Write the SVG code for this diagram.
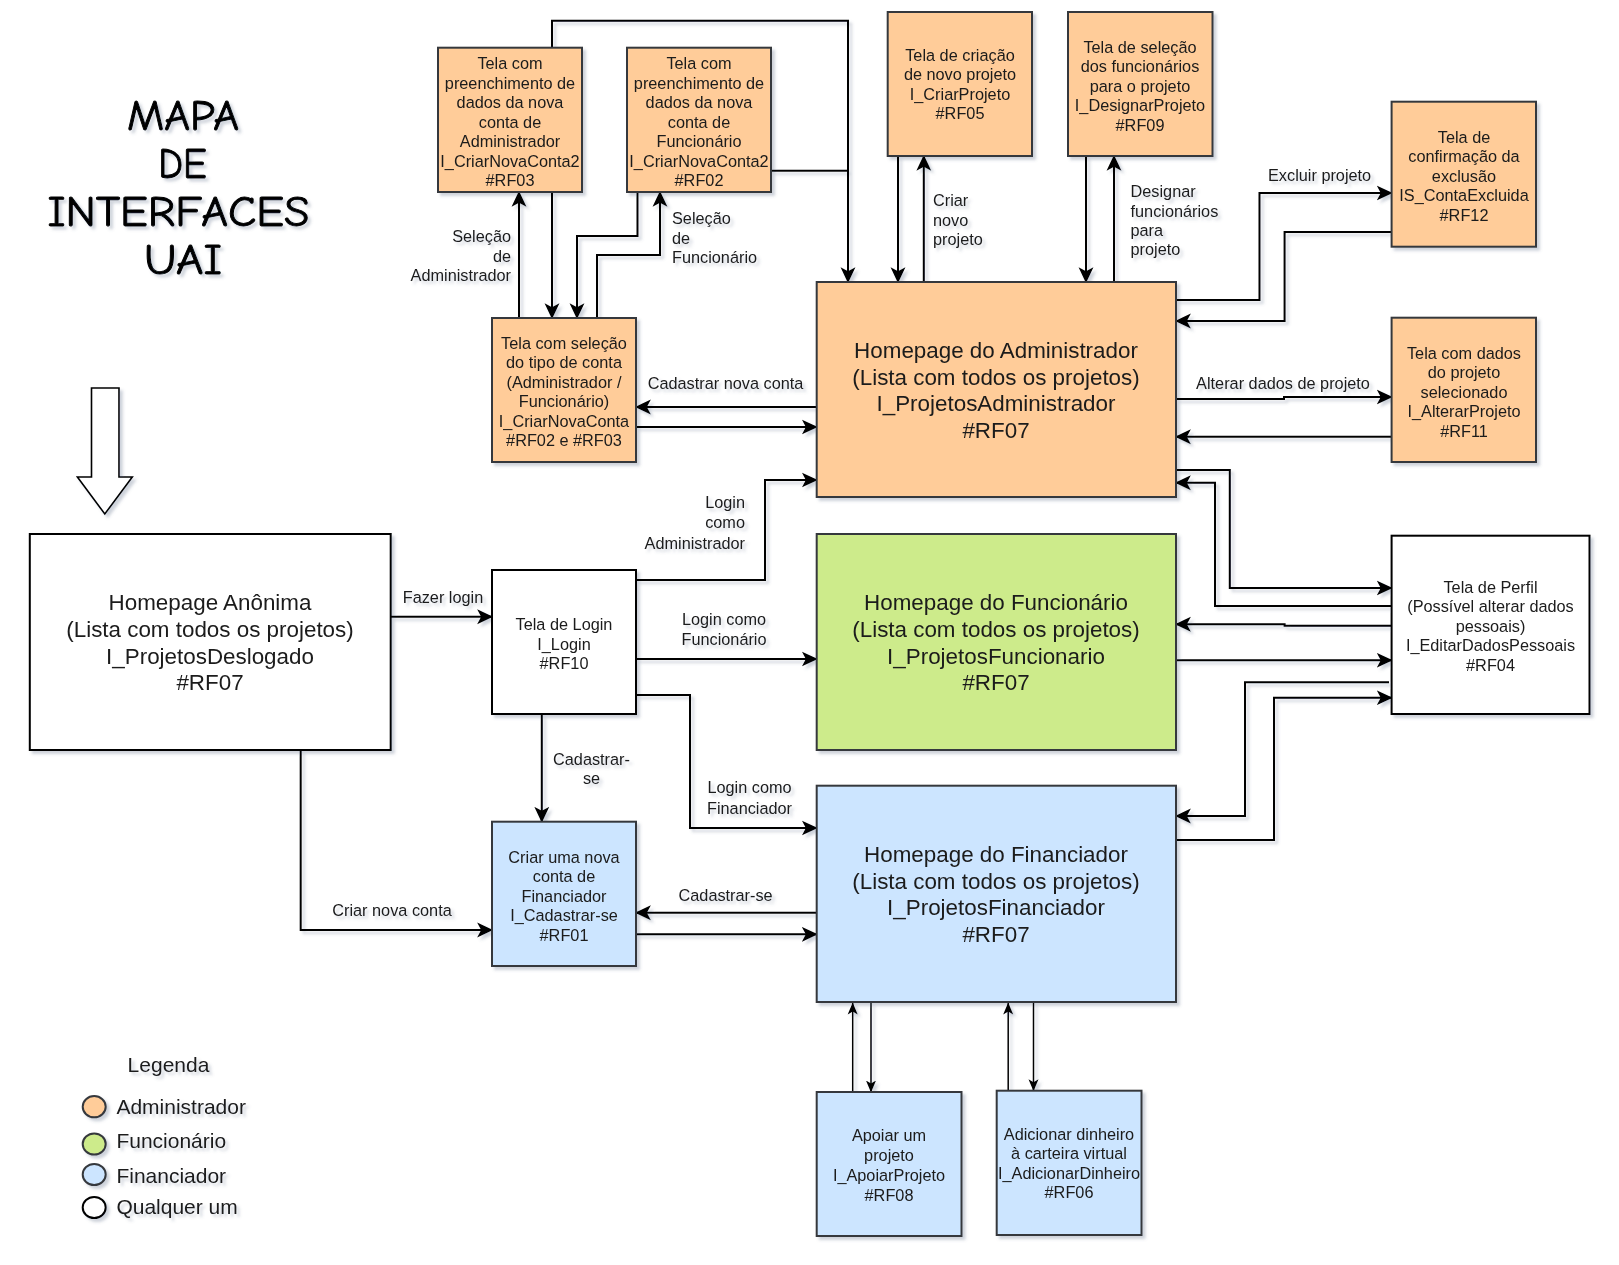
<svg xmlns="http://www.w3.org/2000/svg" width="1619" height="1265" viewBox="0 0 1619 1265">
<defs>
<filter id="sh" x="-5%" y="-5%" width="115%" height="115%">
<feGaussianBlur in="SourceAlpha" stdDeviation="1.8"/>
<feOffset dx="3" dy="3" result="b"/>
<feFlood flood-color="#5a6a85" flood-opacity="0.3"/>
<feComposite in2="b" operator="in"/>
<feMerge><feMergeNode/><feMergeNode in="SourceGraphic"/></feMerge>
</filter>
<marker id="ah" markerUnits="userSpaceOnUse" markerWidth="16" markerHeight="16" viewBox="0 0 14 13" refX="13" refY="6.5" orient="auto">
<path d="M0,0 L14,6.5 L0,13 L3.5,6.5 Z" fill="#000"/>
</marker>
<marker id="ahs" markerUnits="userSpaceOnUse" markerWidth="12" markerHeight="12" viewBox="0 0 12 10" refX="11.5" refY="5" orient="auto">
<path d="M0,0 L12,5 L0,10 L3,5 Z" fill="#000"/>
</marker>
</defs>
<style>
.bx{stroke:#36393d;stroke-width:2}
.or{fill:#ffcc99}.gr{fill:#cdeb8b}.bl{fill:#cce5ff}.wh{fill:#ffffff;stroke:#000}
text{font-family:"Liberation Sans",Arial,sans-serif;fill:#1a1a1a}
.s{font-size:16.3px;text-anchor:middle}
.l{font-size:22.4px;text-anchor:middle}
.e{font-size:16.3px}
.m{text-anchor:middle}.en{text-anchor:end}
.c{fill:none;stroke:#000;stroke-width:2;marker-end:url(#ah)}
.cn{fill:none;stroke:#000;stroke-width:2}
.ct{fill:none;stroke:#000;stroke-width:1.5;marker-end:url(#ahs)}
.t{font-family:"Comic Sans MS","Comic Neue","DejaVu Sans",sans-serif;font-size:42px;text-anchor:middle;fill:#000;stroke:#000;stroke-width:0.9}
.lg{font-size:21px}
</style>
<rect width="1619" height="1265" fill="#fff"/>
<g filter="url(#sh)">
<g id="title">
<text class="t" x="183" y="129.5" textLength="112" lengthAdjust="spacingAndGlyphs">MAPA</text>
<text class="t" x="182.5" y="177.5" textLength="48.5" lengthAdjust="spacingAndGlyphs">DE</text>
<text class="t" x="178.5" y="225.5" textLength="262" lengthAdjust="spacingAndGlyphs">INTERFACES</text>
<text class="t" x="183" y="273.5" textLength="78" lengthAdjust="spacingAndGlyphs">UAI</text>
</g>
<g id="start-arrow">
<polygon points="91.5,388 119,388 119,477 132.3,477 104.8,514 77.4,477 91.5,477" fill="#fff" stroke="#000" stroke-width="1.6"/>
</g>
<g id="connectors">
<path class="c" d="M552,47.7 V20.7 H848 V282"/>
<path class="cn" d="M771,170.7 H848"/>
<path class="c" d="M519,318 V192"/>
<path class="c" d="M552,192 V318"/>
<path class="c" d="M637.5,192 V236 H577 V318"/>
<path class="c" d="M597,318 V255 H660 V192"/>
<path class="c" d="M816.7,407 H636"/>
<path class="c" d="M636,427 H816.7"/>
<path class="c" d="M898,156 V282"/>
<path class="c" d="M923.8,282 V156"/>
<path class="c" d="M1086,156 V282"/>
<path class="c" d="M1114,282 V156"/>
<path class="c" d="M1176,300 H1259.5 V193 H1391.6"/>
<path class="c" d="M1391.6,232 H1284.6 V321 H1176"/>
<path class="c" d="M1176,399 H1284 V397 H1391.6"/>
<path class="c" d="M1391.6,436.7 H1176"/>
<path class="c" d="M1176,470 H1229.8 V588 H1391.6"/>
<path class="c" d="M1391.6,606 H1215 V482.7 H1176"/>
<path class="c" d="M1391.6,625.7 H1284.6 V624.3 H1176"/>
<path class="c" d="M1176,660.3 H1391.6"/>
<path class="c" d="M1389,682.3 H1245 V816 H1176"/>
<path class="c" d="M1176,840 H1274 V697.7 H1391.6"/>
<path class="c" d="M390.7,616.7 H492"/>
<path class="c" d="M636,580 H765 V480 H816.7"/>
<path class="c" d="M636,659 H816.7"/>
<path class="c" d="M636,695 H690 V828 H816.7"/>
<path class="c" d="M541.8,714 V821.7"/>
<path class="c" d="M300.7,750 V930 H492"/>
<path class="c" d="M816.7,912.7 H636"/>
<path class="c" d="M636,934.3 H816.7"/>
<path class="ct" d="M852.7,1092 V1003"/>
<path class="ct" d="M871,1003 V1092"/>
<path class="ct" d="M1008.2,1090.7 V1003"/>
<path class="ct" d="M1033.5,1003 V1090.7"/>
</g>
<g id="edge-labels">
<text class="e en" x="511" y="241.8">Seleção</text>
<text class="e en" x="511" y="261.5">de</text>
<text class="e en" x="511" y="280.8">Administrador</text>
<text class="e" x="672" y="223.8">Seleção</text>
<text class="e" x="672" y="243.8">de</text>
<text class="e" x="672" y="262.8">Funcionário</text>
<text class="e m" x="725.5" y="388.8">Cadastrar nova conta</text>
<text class="e" x="933" y="205.8">Criar</text>
<text class="e" x="933" y="225.8">novo</text>
<text class="e" x="933" y="244.8">projeto</text>
<text class="e" x="1130.5" y="196.8">Designar</text>
<text class="e" x="1130.5" y="216.8">funcionários</text>
<text class="e" x="1130.5" y="235.8">para</text>
<text class="e" x="1130.5" y="254.8">projeto</text>
<text class="e m" x="1319.6" y="180.8">Excluir projeto</text>
<text class="e m" x="1283" y="388.8">Alterar dados de projeto</text>
<text class="e en" x="745" y="507.5">Login</text>
<text class="e en" x="745" y="527.8">como</text>
<text class="e en" x="745" y="548.5">Administrador</text>
<text class="e m" x="443" y="602.8">Fazer login</text>
<text class="e m" x="724" y="624.8">Login como</text>
<text class="e m" x="724" y="644.8">Funcionário</text>
<text class="e m" x="749.5" y="792.8">Login como</text>
<text class="e m" x="749.5" y="813.5">Financiador</text>
<text class="e m" x="591.5" y="764.8">Cadastrar-</text>
<text class="e m" x="591.5" y="783.8">se</text>
<text class="e m" x="392" y="915.8">Criar nova conta</text>
<text class="e m" x="725.6" y="900.8">Cadastrar-se</text>
</g>
<g id="n-form-admin">
<rect class="bx or" x="438" y="47.7" width="144" height="144.3"/>
<text class="s" x="510" y="69">Tela com</text>
<text class="s" x="510" y="88.5">preenchimento de</text>
<text class="s" x="510" y="108">dados da nova</text>
<text class="s" x="510" y="127.5">conta de</text>
<text class="s" x="510" y="147">Administrador</text>
<text class="s" x="510" y="166.5">I_CriarNovaConta2</text>
<text class="s" x="510" y="186">#RF03</text>
</g>
<g id="n-form-func">
<rect class="bx or" x="627" y="47.7" width="144" height="144.3"/>
<text class="s" x="699" y="69">Tela com</text>
<text class="s" x="699" y="88.5">preenchimento de</text>
<text class="s" x="699" y="108">dados da nova</text>
<text class="s" x="699" y="127.5">conta de</text>
<text class="s" x="699" y="147">Funcionário</text>
<text class="s" x="699" y="166.5">I_CriarNovaConta2</text>
<text class="s" x="699" y="186">#RF02</text>
</g>
<g id="n-tipo-conta">
<rect class="bx or" x="492" y="318" width="144" height="144"/>
<text class="s" x="564" y="348.5">Tela com seleção</text>
<text class="s" x="564" y="368">do tipo de conta</text>
<text class="s" x="564" y="387.5">(Administrador /</text>
<text class="s" x="564" y="407">Funcionário)</text>
<text class="s" x="564" y="426.5">I_CriarNovaConta</text>
<text class="s" x="564" y="446">#RF02 e #RF03</text>
</g>
<g id="n-criar-projeto">
<rect class="bx or" x="887.7" y="12" width="144.3" height="144"/>
<text class="s" x="960" y="60.8">Tela de criação</text>
<text class="s" x="960" y="80.3">de novo projeto</text>
<text class="s" x="960" y="99.8">I_CriarProjeto</text>
<text class="s" x="960" y="119.3">#RF05</text>
</g>
<g id="n-designar">
<rect class="bx or" x="1068" y="12" width="144.5" height="144"/>
<text class="s" x="1140" y="52.5">Tela de seleção</text>
<text class="s" x="1140" y="72">dos funcionários</text>
<text class="s" x="1140" y="91.5">para o projeto</text>
<text class="s" x="1140" y="111">I_DesignarProjeto</text>
<text class="s" x="1140" y="130.5">#RF09</text>
</g>
<g id="n-exclusao">
<rect class="bx or" x="1391.6" y="101.7" width="144.4" height="145"/>
<text class="s" x="1464" y="142.5">Tela de</text>
<text class="s" x="1464" y="162">confirmação da</text>
<text class="s" x="1464" y="181.5">exclusão</text>
<text class="s" x="1464" y="201">IS_ContaExcluida</text>
<text class="s" x="1464" y="220.5">#RF12</text>
</g>
<g id="n-alterar">
<rect class="bx or" x="1391.6" y="317.7" width="144.4" height="144.3"/>
<text class="s" x="1464" y="358.5">Tela com dados</text>
<text class="s" x="1464" y="378">do projeto</text>
<text class="s" x="1464" y="397.5">selecionado</text>
<text class="s" x="1464" y="417">I_AlterarProjeto</text>
<text class="s" x="1464" y="436.5">#RF11</text>
</g>
<g id="n-home-admin">
<rect class="bx or" x="816.7" y="282" width="359.3" height="215"/>
<text class="l" x="996" y="358">Homepage do Administrador</text>
<text class="l" x="996" y="384.7">(Lista com todos os projetos)</text>
<text class="l" x="996" y="411.3">I_ProjetosAdministrador</text>
<text class="l" x="996" y="438">#RF07</text>
</g>
<g id="n-home-func">
<rect class="bx gr" x="816.7" y="534" width="359.3" height="216"/>
<text class="l" x="996" y="610.3">Homepage do Funcionário</text>
<text class="l" x="996" y="637">(Lista com todos os projetos)</text>
<text class="l" x="996" y="663.7">I_ProjetosFuncionario</text>
<text class="l" x="996" y="690.3">#RF07</text>
</g>
<g id="n-home-fin">
<rect class="bx bl" x="816.7" y="785.7" width="359.3" height="216.3"/>
<text class="l" x="996" y="862">Homepage do Financiador</text>
<text class="l" x="996" y="888.7">(Lista com todos os projetos)</text>
<text class="l" x="996" y="915.3">I_ProjetosFinanciador</text>
<text class="l" x="996" y="942">#RF07</text>
</g>
<g id="n-home-anon">
<rect class="bx wh" x="29.8" y="534" width="360.9" height="216"/>
<text class="l" x="210" y="610.3">Homepage Anônima</text>
<text class="l" x="210" y="637">(Lista com todos os projetos)</text>
<text class="l" x="210" y="663.7">I_ProjetosDeslogado</text>
<text class="l" x="210" y="690.3">#RF07</text>
</g>
<g id="n-perfil">
<rect class="bx wh" x="1391.6" y="535.7" width="197.9" height="178.3"/>
<text class="s" x="1490.5" y="592.5">Tela de Perfil</text>
<text class="s" x="1490.5" y="612">(Possível alterar dados</text>
<text class="s" x="1490.5" y="631.5">pessoais)</text>
<text class="s" x="1490.5" y="651">I_EditarDadosPessoais</text>
<text class="s" x="1490.5" y="670.5">#RF04</text>
</g>
<g id="n-login">
<rect class="bx wh" x="492" y="570" width="144" height="144"/>
<text class="s" x="564" y="630">Tela de Login</text>
<text class="s" x="564" y="649.5">I_Login</text>
<text class="s" x="564" y="669">#RF10</text>
</g>
<g id="n-cadastrar">
<rect class="bx bl" x="492" y="821.7" width="144" height="144.3"/>
<text class="s" x="564" y="862.5">Criar uma nova</text>
<text class="s" x="564" y="882">conta de</text>
<text class="s" x="564" y="901.5">Financiador</text>
<text class="s" x="564" y="921">I_Cadastrar-se</text>
<text class="s" x="564" y="940.5">#RF01</text>
</g>
<g id="n-apoiar">
<rect class="bx bl" x="816.7" y="1092" width="144.8" height="144"/>
<text class="s" x="889" y="1140.8">Apoiar um</text>
<text class="s" x="889" y="1160.8">projeto</text>
<text class="s" x="889" y="1180.8">I_ApoiarProjeto</text>
<text class="s" x="889" y="1200.8">#RF08</text>
</g>
<g id="n-adicionar">
<rect class="bx bl" x="996.7" y="1090.7" width="144.8" height="144.3"/>
<text class="s" x="1069" y="1139.8">Adicionar dinheiro</text>
<text class="s" x="1069" y="1159.3">à carteira virtual</text>
<text class="s" x="1069" y="1178.8">I_AdicionarDinheiro</text>
<text class="s" x="1069" y="1198.3">#RF06</text>
</g>
<g id="legend">
<text class="lg m" x="168.5" y="1071.5">Legenda</text>
<ellipse cx="94.2" cy="1106.7" rx="11.5" ry="10.6" fill="#ffcc99" stroke="#36393d" stroke-width="2"/>
<ellipse cx="94.2" cy="1144" rx="11.5" ry="10.6" fill="#cdeb8b" stroke="#36393d" stroke-width="2"/>
<ellipse cx="94.2" cy="1174.5" rx="11.5" ry="10.6" fill="#cce5ff" stroke="#36393d" stroke-width="2"/>
<ellipse cx="94.2" cy="1207.5" rx="11.5" ry="10.6" fill="#ffffff" stroke="#000" stroke-width="2"/>
<text class="lg" x="116.4" y="1114.2">Administrador</text>
<text class="lg" x="116.4" y="1147.5">Funcionário</text>
<text class="lg" x="116.4" y="1182.5">Financiador</text>
<text class="lg" x="116.4" y="1214.2">Qualquer um</text>
</g>
</g>
</svg>
